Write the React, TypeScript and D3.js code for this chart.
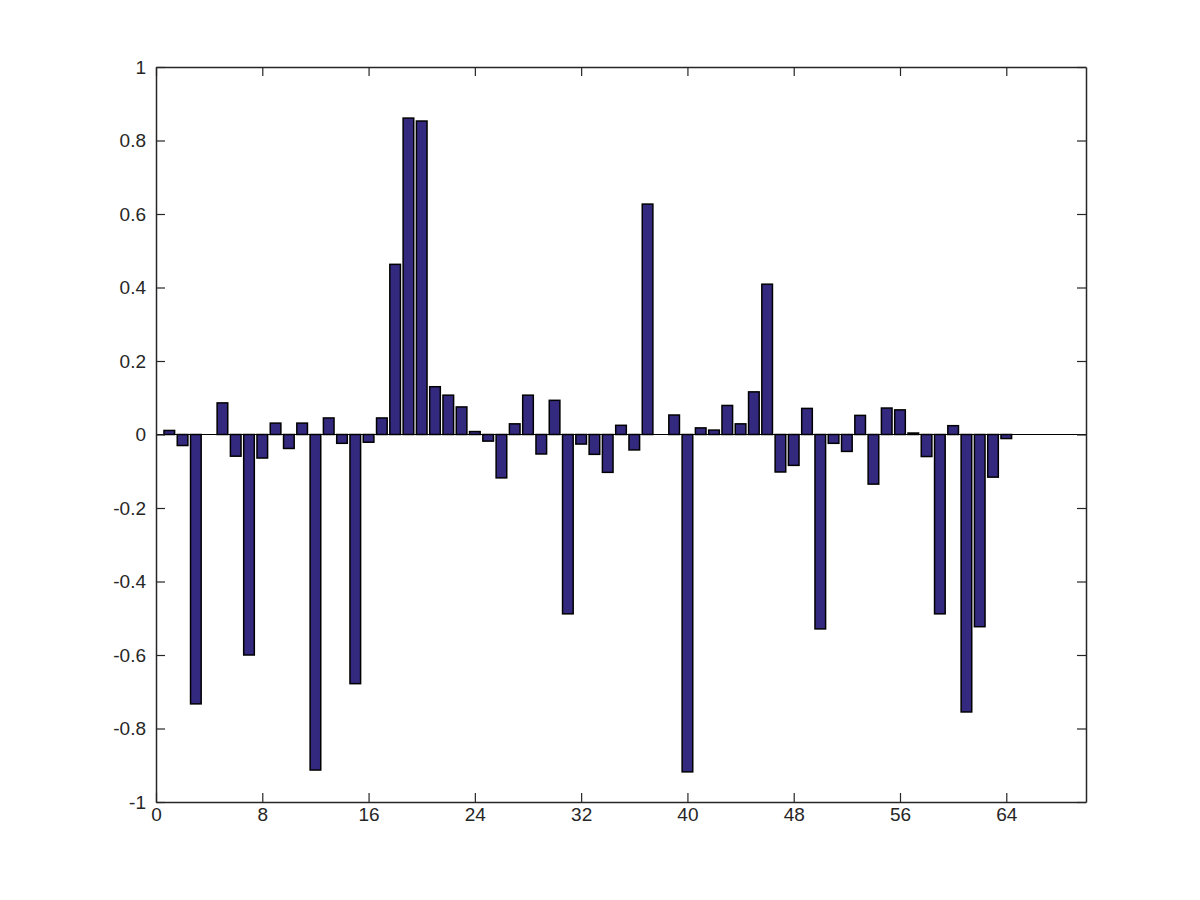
import { useEffect, useRef } from 'react';
import * as d3 from 'd3';

// bar positions 1..64 and their values
const positions = d3.range(1, 65);
const values = [
  0.011, -0.03, -0.733, 0, 0.086, -0.059, -0.6, -0.064, 0.031, -0.038,
  0.031, -0.913, 0.045, -0.024, -0.678, -0.021, 0.045, 0.463, 0.861, 0.853,
  0.13, 0.107, 0.075, 0.008, -0.018, -0.118, 0.029, 0.107, -0.053, 0.093,
  -0.488, -0.026, -0.054, -0.103, 0.025, -0.042, 0.627, 0, 0.053, -0.918,
  0.018, 0.012, 0.079, 0.029, 0.116, 0.409, -0.102, -0.084, 0.071, -0.529,
  -0.024, -0.046, 0.052, -0.135, 0.072, 0.067, 0.004, -0.06, -0.488, 0.024,
  -0.755, -0.523, -0.116, -0.011,
];
const xTicks = [0, 8, 16, 24, 32, 40, 48, 56, 64];
const yTicks = [-1, -0.8, -0.6, -0.4, -0.2, 0, 0.2, 0.4, 0.6, 0.8, 1];

const App = () => {
  const svgRef = useRef<SVGSVGElement>(null);

  useEffect(() => {
    const W = 1200;
    const H = 900;
    const margin = { top: 67, right: 114, bottom: 98, left: 156 };
    const width = W - margin.left - margin.right;
    const height = H - margin.top - margin.bottom;

    const svgEl = d3.select(svgRef.current);
    svgEl.selectAll('*').remove();
    svgEl.attr('width', W).attr('height', H);

    svgEl.append('rect').attr('width', W).attr('height', H).attr('fill', '#fff');

    const g = svgEl.append('g').attr('transform', `translate(${margin.left},${margin.top})`);

    const x = d3.scaleLinear().domain([0, 70]).range([0, width]);
    const y = d3.scaleLinear().domain([-1, 1]).range([height, 0]);
    const barW = x(0.8) - x(0);

    // baseline
    g.append('line')
      .attr('x1', 0).attr('x2', width)
      .attr('y1', y(0)).attr('y2', y(0))
      .attr('stroke', '#000').attr('stroke-width', 1.2);

    // bars
    g.selectAll('rect.bar')
      .data(positions.map((p, i) => ({ p, v: values[i] })).filter(d => d.v !== 0))
      .enter()
      .append('rect')
      .attr('class', 'bar')
      .attr('x', d => x(d.p) - barW / 2)
      .attr('y', d => y(Math.max(0, d.v)))
      .attr('width', barW)
      .attr('height', d => Math.abs(y(d.v) - y(0)))
      .attr('fill', '#33297f')
      .attr('stroke', '#000')
      .attr('stroke-width', 1.5);

    const fontFamily = 'Helvetica, Arial, "Liberation Sans", sans-serif';
    const axisColor = '#262626';
    const fmt = (d: any) => String(+d); // plain hyphen minus like the original

    // axes (ticks inside, mirrored)
    const bottom = g.append('g')
      .attr('transform', `translate(0,${height})`)
      .call(d3.axisBottom(x).tickValues(xTicks).tickSizeInner(-9).tickSizeOuter(0).tickPadding(6).tickFormat(fmt));
    const top = g.append('g')
      .call(d3.axisTop(x).tickValues(xTicks).tickSizeInner(-9).tickSizeOuter(0).tickFormat(() => ''));
    const left = g.append('g')
      .call(d3.axisLeft(y).tickValues(yTicks).tickSizeInner(-9).tickSizeOuter(0).tickPadding(10).tickFormat(fmt));
    const right = g.append('g')
      .attr('transform', `translate(${width},0)`)
      .call(d3.axisRight(y).tickValues(yTicks).tickSizeInner(-9).tickSizeOuter(0).tickFormat(() => ''));

    [bottom, top, left, right].forEach(a => {
      a.attr('font-size', null).attr('font-family', null);
      a.select('.domain').attr('stroke', axisColor).attr('stroke-width', 1.5);
      a.selectAll('.tick line').attr('stroke', axisColor).attr('stroke-width', 1.2);
      a.selectAll('.tick text')
        .attr('fill', axisColor)
        .style('font-family', fontFamily)
        .style('font-size', '19px');
    });
  }, []);

  return <svg ref={svgRef} style={{ display: 'block', margin: '-8px' }}></svg>;
};

export default App;
